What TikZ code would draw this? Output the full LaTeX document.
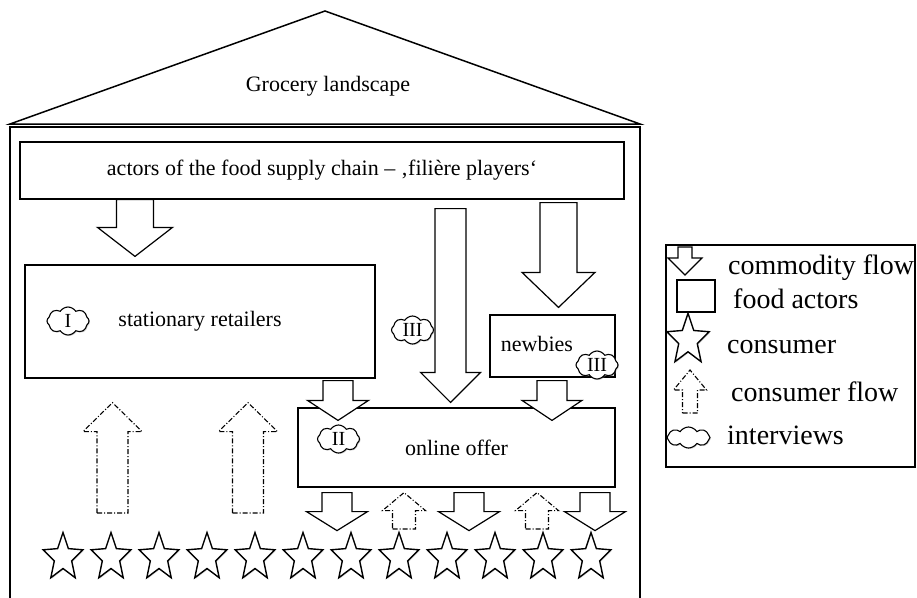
\documentclass[tikz,border=0pt]{standalone}
\usepackage{fontspec}
\setmainfont{Liberation Serif}
\usetikzlibrary{calc,shapes.symbols,shadows}

\tikzset{
  house/.style={line width=1.5pt},
  actor/.style={draw, fill=white, line width=1.2pt, inner sep=0pt,
    font=\fontsize{22}{26}\selectfont,
    drop shadow={shadow xshift=1pt, shadow yshift=-1pt, opacity=0.3}},
  actortext/.style={inner sep=0pt, font=\fontsize{22}{26}\selectfont},
  goods/.style={draw, fill=white, line width=1.2pt},
  visit/.style={draw, line width=1.1pt, dash pattern=on 5pt off 2pt on 1pt off 2pt},
  talk/.style={cloud, cloud puffs=8, cloud puff arc=115, aspect=1.6, draw, fill=white, line width=1.1pt,
    inner sep=0pt, minimum width=42pt, minimum height=28pt,
    drop shadow={shadow xshift=1pt, shadow yshift=-1pt, opacity=0.35}},
  talktext/.style={inner sep=0pt, font=\fontsize{20}{22}\selectfont},
  legtext/.style={anchor=base west, inner sep=0pt, font=\fontsize{28}{32}\selectfont},
  pics/consumer/.style={code={
    \draw[goods, line width=1.4pt, xscale=0.83, drop shadow={shadow xshift=1pt, shadow yshift=-1pt, opacity=0.3}]
      (270:25) -- (306:11) -- (342:25) -- (18:11) -- (54:25) -- (90:11)
      -- (126:25) -- (162:11) -- (198:25) -- (234:11) -- cycle;}}
}

% block arrow: x, from, to (only y used), half shaft, half head, head length
\newcommand{\flowarrow}[7][goods]{%
  \draw[#1] let \p1=#3, \p2=#4 in
    ({(#2-#5)*1pt},\y1) -- ({(#2+#5)*1pt},\y1) -- ({(#2+#5)*1pt},{\y2+(#7)*1pt})
    -- ({(#2+#6)*1pt},{\y2+(#7)*1pt}) -- ({(#2)*1pt},\y2) -- ({(#2-#6)*1pt},{\y2+(#7)*1pt})
    -- ({(#2-#5)*1pt},{\y2+(#7)*1pt}) -- cycle;}

\begin{document}
\begin{tikzpicture}[x=1pt,y=-1pt]
\useasboundingbox (0,0) rectangle (917,597);

% roof and walls
\coordinate (eaveL) at (10,124);
\coordinate (ridge) at (325,11);
\coordinate (eaveR) at (640,124);
\draw[house] (eaveL) -- (ridge) -- (eaveR) -- cycle;
\node[actortext] (title) at (328,86) {Grocery landscape};
\draw[house] (10,600) -- (10,127) -- (640,127) -- (640,600);

% food actors
\node[actor, minimum width=604, minimum height=57] (actors) at (322,170.5)
  {actors of the food supply chain – ‚filière players‘};
\node[actor, minimum width=350, minimum height=113] (retail) at (200,321.5)
  {stationary retailers};
\node[actor, minimum width=125, minimum height=62,
  label={[actortext, xshift=-15.5pt, yshift=2pt]center:newbies}] (newbies) at (552.5,346) {};
\node[actor, minimum width=317, minimum height=79] (online) at (456.5,447.5)
  {online offer};

% commodity flow
\flowarrow{135}{(actors.south)}{($(retail.north)+(0,-8)$)}{18.5}{37.5}{29}
\flowarrow{450.5}{($(actors.south)+(0,9)$)}{($(online.north)+(0,-5)$)}{15.5}{30}{30}
\flowarrow{558.5}{($(actors.south)+(0,3)$)}{($(newbies.north)+(0,-7)$)}{18.5}{36.5}{35}
\flowarrow{338}{($(retail.south)+(0,2)$)}{($(online.north)+(0,13)$)}{15}{30.5}{20}
\flowarrow{552}{($(newbies.south)+(0,3)$)}{($(online.north)+(0,13)$)}{15}{30}{20}

% consumers
\foreach \n in {0,1,...,11}
  \pic at ({63+48*\n},557.5) {consumer};

\foreach \pos in {337,469,595}
  {\flowarrow{\pos}{($(online.south)+(0,5)$)}{($(online.south)+(0,43)$)}{15}{30.5}{19}}

% consumer flow
\coordinate (walkin) at (0,513);
\coordinate (clickin) at (0,529);
\foreach \pos in {112.5,248}
  {\flowarrow[visit]{\pos}{(walkin)}{($(retail.south)+(0,24)$)}{15.5}{29.5}{-29}}
\foreach \pos in {404,537}
  {\flowarrow[visit]{\pos}{(clickin)}{($(online.south)+(0,5)$)}{11.5}{21.5}{-18}}

% interviews
\node[talk, label={[talktext]center:I}] (int1) at (68,321) {};
\node[talk, label={[talktext]center:II}] (int2) at (338.5,439) {};
\node[talk, label={[talktext]center:III}] (int3a) at (412.5,330) {};
\node[talk, label={[talktext]center:III}] (int3b) at (597,365) {};

% legend
\node[draw, line width=1.2pt, minimum width=249, minimum height=222, inner sep=0pt] (legend) at (790.5,356) {};
\coordinate (legtop) at (0,247);
\flowarrow{685}{(legtop)}{(0,275)}{7}{17}{17}
\node[legtext] (lgoods) at (728,274) {commodity flow};
\node[actor, minimum width=38, minimum height=32] (lactor) at (696,296) {};
\node[legtext] (lactors) at (733,308) {food actors};
\pic[scale=1.07] at (688,340) {consumer};
\node[legtext] (lconsumer) at (727,353) {consumer};
\coordinate (legwalk) at (0,413);
\flowarrow[visit]{690}{(legwalk)}{(0,370)}{7.5}{16.5}{-20}
\node[legtext] (lvisit) at (731,401) {consumer flow};
\node[talk, minimum width=43, minimum height=21] (ltalk) at (688.5,437.5) {};
\node[legtext] (linterviews) at (727,444) {interviews};

\end{tikzpicture}
\end{document}
